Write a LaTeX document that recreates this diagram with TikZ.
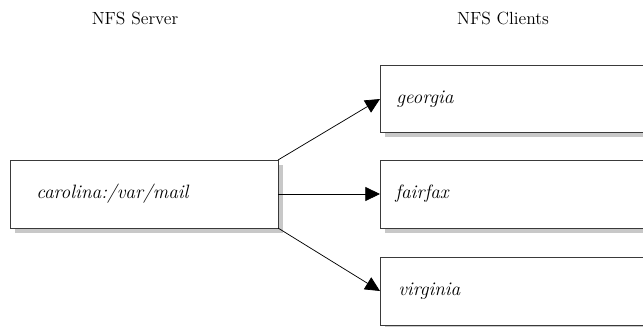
\documentclass[tikz,border=0pt]{standalone}
\usetikzlibrary{arrows.meta}
\definecolor{shadowgray}{HTML}{C8C8C8}
\definecolor{edgegray}{HTML}{3A3A3A}
\tikzset{
  boxframe/.style={draw=edgegray, line width=0.65pt, fill=white},
  hostlabel/.style={font=\itshape\fontsize{14.5}{16}\selectfont, anchor=west, inner sep=0pt},
  title/.style={font=\fontsize{13.2}{15}\selectfont, inner sep=0pt},
  link/.style={draw=black, line width=0.55pt, -{Triangle[length=11pt,width=10.5pt]}}
}
\begin{document}
\begin{tikzpicture}[x=0.75pt,y=-0.75pt]
\useasboundingbox (0,0) rectangle (643,326);
% shadows
\fill[shadowgray] (15,165) rectangle (283,233);
\fill[shadowgray] (385,70) rectangle (660,137);
\fill[shadowgray] (385,165) rectangle (660,233);
\fill[shadowgray] (385,262) rectangle (660,330);
% boxes
\draw[boxframe] (10,160) rectangle (278,228);
\draw[boxframe] (380,65) rectangle (655,132);
\draw[boxframe] (380,160) rectangle (655,228);
\draw[boxframe] (380,257) rectangle (655,325);
\coordinate (srvTR) at (278,160);
\coordinate (srvR) at (278,194);
\coordinate (srvBR) at (278,228);
\coordinate (geoL) at (380,99);
\coordinate (fairL) at (380,194);
\coordinate (virL) at (380,291);
% labels
\node[hostlabel] (srv) at (36,194) {carolina:/var/mail};
\node[hostlabel] (geo) at (396,99) {georgia};
\node[hostlabel] (fair) at (395,194) {fairfax};
\node[hostlabel] (vir) at (398,291) {virginia};
\node[title] (t1) at (135,18) {NFS Server};
\node[title] (t2) at (503,18) {NFS Clients};
% arrows
\draw[link] (srvTR) -- (geoL);
\draw[link] (srvR) -- (fairL);
\draw[link] (srvBR) -- (virL);
\end{tikzpicture}
\end{document}
